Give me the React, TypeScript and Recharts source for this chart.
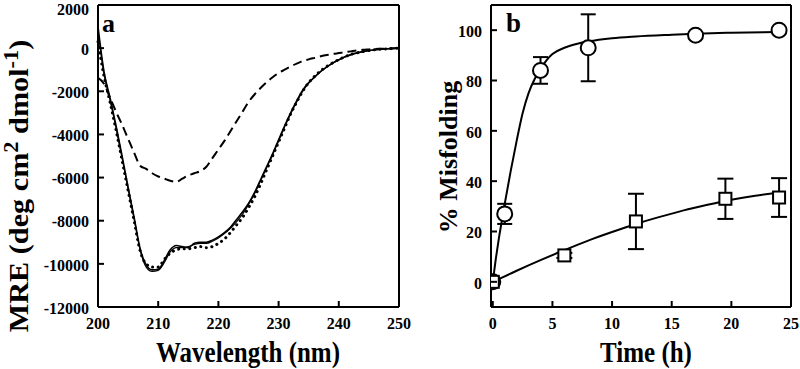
import React from 'react';
import {
  ComposedChart,
  Line,
  Scatter,
  XAxis,
  YAxis,
  ErrorBar,
  ReferenceLine,
} from 'recharts';

// panel a: CD spectra
const wavelength = [
  200, 201, 202, 203, 204, 205, 206, 207, 208, 209, 210, 211, 212, 213, 214, 215, 216,
  217, 218, 219, 220, 221, 222, 223, 224, 225, 226, 227, 228, 229, 230, 231, 232, 233,
  234, 235, 236, 237, 238, 239, 240, 241, 242, 243, 244, 245, 246, 247, 248, 249, 250,
];
const mreSolid = [
  1000, -1100, -2300, -3600, -5000, -6450, -7850, -9300, -10050, -10280, -10250, -9850,
  -9350, -9150, -9200, -9250, -9050, -9000, -9000, -8900, -8750, -8550, -8300, -7950,
  -7600, -7200, -6700, -6100, -5500, -4900, -4250, -3600, -3000, -2450, -1950, -1600,
  -1330, -1080, -870, -690, -540, -400, -300, -220, -160, -110, -75, -50, -30, -15, 0,
];
const mreSolid2 = [
  800, -1200, -2400, -3700, -5100, -6500, -7900, -9350, -10150, -10350, -10300, -9950,
  -9450, -9250, -9250, -9200, -9100, -9050, -9050, -8950, -8800, -8600, -8350, -8050,
  -7700, -7250, -6750, -6150, -5550, -4950, -4300, -3650, -3050, -2500, -2000, -1620,
  -1340, -1090, -880, -700, -550, -410, -310, -230, -165, -115, -80, -55, -35, -18, 0,
];
const mreDotted = [
  300, -1300, -2500, -3800, -5200, -6600, -8000, -9400, -10000, -10150, -10150, -9800,
  -9500, -9350, -9300, -9300, -9250, -9200, -9250, -9200, -9050, -8850, -8550, -8200,
  -7850, -7400, -6900, -6300, -5650, -5000, -4350, -3700, -3050, -2500, -2000, -1600,
  -1300, -1050, -850, -680, -530, -400, -290, -220, -160, -110, -70, -50, -30, -15, 0,
];
const mreDashed = [
  -1380, -1650, -2300, -2950, -3550, -4200, -4850, -5450, -5600, -5800, -5950, -6050,
  -6150, -6200, -6050, -5900, -5800, -5700, -5500, -5100, -4700, -4300, -3850, -3400,
  -2950, -2500, -2150, -1850, -1580, -1350, -1150, -1000, -850, -720, -600, -520, -450,
  -380, -320, -270, -230, -190, -150, -110, -80, -60, -40, -30, -20, -10, 0,
];
const wlTicks = [200, 210, 220, 230, 240, 250];
const mreTicks = [-12000, -10000, -8000, -6000, -4000, -2000, 0, 2000];

// panel b: misfolding kinetics
const circleTime = [0, 1, 4, 8, 17, 24];
const circleVal = [0, 27, 84, 93, 98, 100];
const circleErr = [0, 4, 5.3, 13.3, 1, 0];
const squareTime = [0, 6, 12, 19.5, 24];
const squareVal = [0, 10.5, 24, 33, 33.5];
const squareErr = [0, 1, 11, 8, 7.7];
const circleFitTime = [0, 0.25, 0.5, 0.75, 1, 1.5, 2, 2.5, 3, 3.5, 4, 4.5, 5, 6, 7, 8, 10, 12, 15, 17, 20, 24];
const circleFitVal = [0, 9, 17, 24, 31, 44, 56, 67, 75, 80.5, 84.5, 88, 90.5, 93, 94.5, 95.5, 96.8, 97.5, 98.2, 98.6, 99, 99.3];
const squareFitTime = [0, 2, 4, 6, 8, 10, 12, 14, 16, 18, 20, 22, 24];
const squareFitVal = [0, 4.4, 8.6, 12.6, 16.4, 19.8, 23, 25.8, 28.4, 30.6, 32.6, 34.2, 35.5];
const timeTicks = [0, 5, 10, 15, 20, 25];
const pctTicks = [0, 20, 40, 60, 80, 100];

const spectra = wavelength.map((w, i) => ({
  w,
  solid: mreSolid[i],
  solid2: mreSolid2[i],
  dotted: mreDotted[i],
  dashed: mreDashed[i],
}));
const circles = circleTime.map((t, i) => ({ t, v: circleVal[i], e: circleErr[i] }));
const squares = squareTime.map((t, i) => ({ t, v: squareVal[i], e: squareErr[i] }));
const circleFit = circleFitTime.map((t, i) => ({ t, v: circleFitVal[i] }));
const squareFit = squareFitTime.map((t, i) => ({ t, v: squareFitVal[i] }));

const FONT = '"Liberation Serif", "Times New Roman", serif';
const tickFont = { fontFamily: FONT, fontWeight: 700, fontSize: 16, fill: '#000' };

const YTick = (props: any) => {
  const { x, y, payload } = props;
  // keep the topmost label inside the picture
  const ty = Math.max(y + 1, 9);
  return (
    <g>
      <line x1={x} y1={y} x2={x + 6} y2={y} stroke="#000" strokeWidth={2} />
      <text x={x - 9} y={ty} dy="0.36em" textAnchor="end" {...tickFont}>
        {payload.value}
      </text>
    </g>
  );
};

const XTick = (props: any) => {
  const { x, y, payload } = props;
  return (
    <g>
      <line x1={x} y1={y} x2={x} y2={y - 6} stroke="#000" strokeWidth={2} />
      <text x={x} y={y + 22} textAnchor="middle" {...tickFont}>
        {payload.value}
      </text>
    </g>
  );
};

const Circle = (props: any) => (
  <circle cx={props.cx} cy={props.cy} r={7.5} fill="#fff" stroke="#000" strokeWidth={2} />
);
const Square = (props: any) => (
  <rect x={props.cx - 6} y={props.cy - 6} width={12} height={12} fill="#fff" stroke="#000" strokeWidth={2} />
);

const axisLine = { stroke: '#000', strokeWidth: 2 };

export default function App() {
  return (
    <div style={{ position: 'absolute', left: 0, top: 0, width: 800, height: 369, background: '#fff', fontFamily: FONT, overflow: 'hidden' }}>
      <div style={{ position: 'absolute', left: 0, top: 0 }}>
        <ComposedChart width={420} height={369} data={spectra} margin={{ top: 5, right: 21, bottom: 0, left: 0 }}>
          <XAxis
            dataKey="w"
            type="number"
            domain={[200, 250]}
            ticks={wlTicks}
            height={62}
            tickSize={0}
            tickMargin={0}
            tick={<XTick />}
            axisLine={axisLine}
            interval={0}
          />
          <YAxis
            type="number"
            domain={[-12000, 2000]}
            ticks={mreTicks}
            width={98}
            tickSize={0}
            tickMargin={0}
            tick={<YTick />}
            axisLine={axisLine}
            interval={0}
          />
          <ReferenceLine y={2000} stroke="#000" strokeWidth={2} />
          <ReferenceLine x={250} stroke="#000" strokeWidth={2} />
          <Line dataKey="dashed" type="monotone" stroke="#000" strokeWidth={2} strokeDasharray="9 5" dot={false} isAnimationActive={false} />
          <Line dataKey="dotted" type="monotone" stroke="#000" strokeWidth={3} strokeDasharray="0.1 5.5" strokeLinecap="round" dot={false} isAnimationActive={false} />
          <Line dataKey="solid2" type="monotone" stroke="#000" strokeWidth={1.2} dot={false} isAnimationActive={false} />
          <Line dataKey="solid" type="monotone" stroke="#000" strokeWidth={1.6} dot={false} isAnimationActive={false} />
        </ComposedChart>
      </div>
      <div style={{ position: 'absolute', left: 400, top: 0 }}>
        <ComposedChart width={400} height={369} margin={{ top: 5, right: 9, bottom: 0, left: 0 }}>
          <XAxis
            dataKey="t"
            type="number"
            domain={[-0.15, 25]}
            ticks={timeTicks}
            height={62}
            tickSize={0}
            tickMargin={0}
            tick={<XTick />}
            axisLine={axisLine}
            interval={0}
            allowDataOverflow
          />
          <YAxis
            dataKey="v"
            type="number"
            domain={[-10, 110]}
            ticks={pctTicks}
            width={91}
            tickSize={0}
            tickMargin={0}
            tick={<YTick />}
            axisLine={axisLine}
            interval={0}
            allowDataOverflow
          />
          <ReferenceLine y={110} stroke="#000" strokeWidth={2} />
          <ReferenceLine x={25} stroke="#000" strokeWidth={2} />
          <Line data={circleFit} dataKey="v" type="monotone" stroke="#000" strokeWidth={2} dot={false} isAnimationActive={false} />
          <Line data={squareFit} dataKey="v" type="monotone" stroke="#000" strokeWidth={2} dot={false} isAnimationActive={false} />
          <Scatter data={circles} dataKey="v" shape={<Circle />} isAnimationActive={false}>
            <ErrorBar dataKey="e" direction="y" width={7.5} stroke="#000" strokeWidth={2} isAnimationActive={false} />
          </Scatter>
          <Scatter data={squares} dataKey="v" shape={<Square />} isAnimationActive={false}>
            <ErrorBar dataKey="e" direction="y" width={8} stroke="#000" strokeWidth={2} isAnimationActive={false} />
          </Scatter>
        </ComposedChart>
      </div>
      <svg width={800} height={369} style={{ position: 'absolute', left: 0, top: 0, pointerEvents: 'none' }}>
        <g fontFamily={FONT} fontWeight={700} fill="#000">
          <text x={102} y={32} fontSize={26}>a</text>
          <text x={506} y={32} fontSize={27}>b</text>
          <text transform="translate(248,362) scale(1,1.15)" fontSize={25} textAnchor="middle">Wavelength (nm)</text>
          <text transform="translate(646,362) scale(1,1.15)" fontSize={25} textAnchor="middle">Time (h)</text>
          <text transform="translate(28,186) rotate(-90) scale(1.12,1)" fontSize={27} textAnchor="middle">
            MRE (deg cm<tspan dy={-10} fontSize={20}>2</tspan>
            <tspan dy={10}> dmol</tspan>
            <tspan dy={-10} fontSize={20}>-1</tspan>
            <tspan dy={10}>)</tspan>
          </text>
          <text transform="translate(457,157) rotate(-90)" fontSize={26} textAnchor="middle">% Misfolding</text>
        </g>
      </svg>
    </div>
  );
}
